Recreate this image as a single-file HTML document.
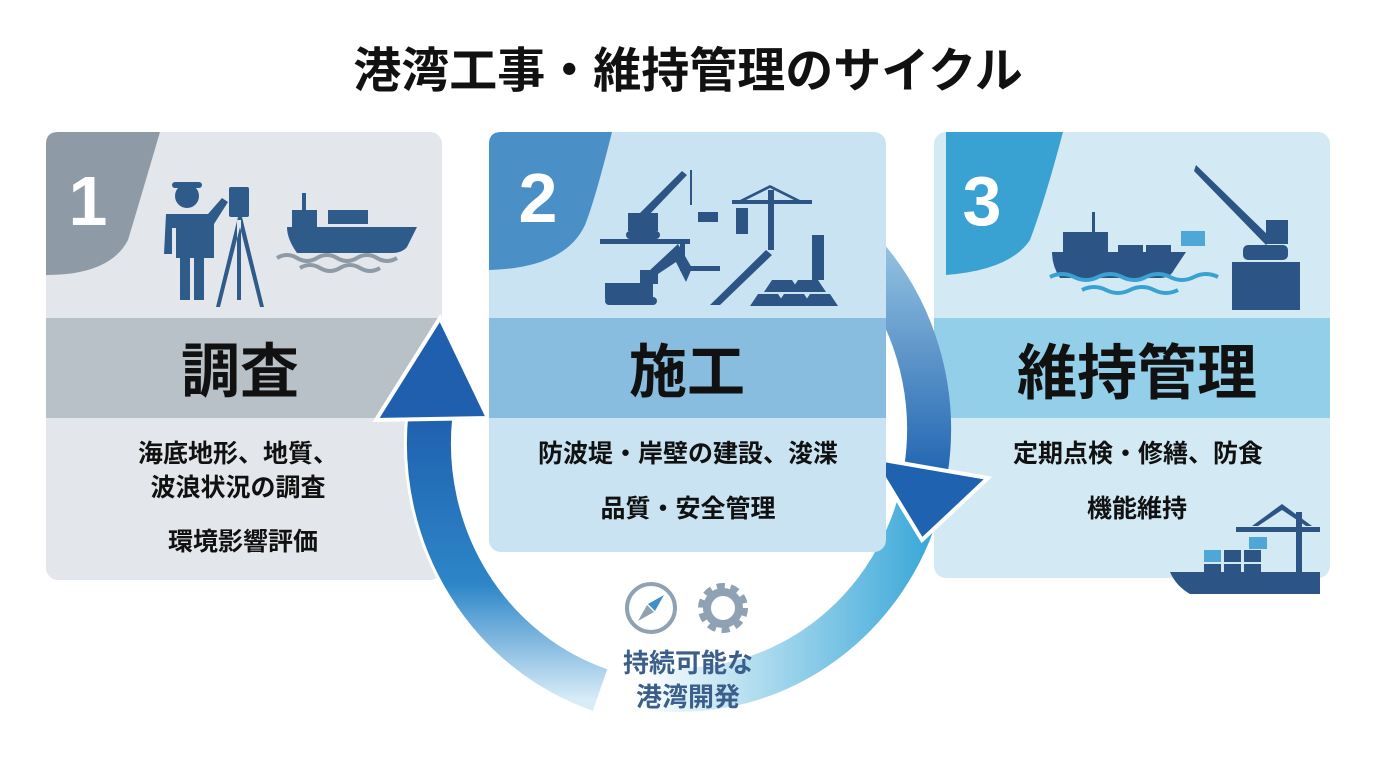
<!DOCTYPE html>
<html><head><meta charset="utf-8"><style>
html,body{margin:0;padding:0;background:#fff;}
body{width:1376px;height:768px;overflow:hidden;position:relative;font-family:"Liberation Sans","Noto Sans CJK JP",sans-serif;}
svg text{font-family:"Liberation Sans","Noto Sans CJK JP",sans-serif;}
</style></head><body>
<svg width="1376" height="768" viewBox="0 0 1376 768" xmlns="http://www.w3.org/2000/svg">
<defs>
<linearGradient id="gL" gradientUnits="userSpaceOnUse" x1="0" y1="410" x2="0" y2="700">
<stop offset="0" stop-color="#1f5fae"/><stop offset="0.6" stop-color="#2d86c8"/><stop offset="1" stop-color="#d8ecf7"/></linearGradient>
<linearGradient id="gR" gradientUnits="userSpaceOnUse" x1="0" y1="230" x2="0" y2="480">
<stop offset="0" stop-color="#9cc8e4"/><stop offset="1" stop-color="#1f63b0"/></linearGradient>
<linearGradient id="gB" gradientUnits="userSpaceOnUse" x1="930" y1="0" x2="640" y2="0">
<stop offset="0" stop-color="#3aa8d8"/><stop offset="1" stop-color="#ffffff"/></linearGradient>
</defs>
<text x="688" y="87" text-anchor="middle" font-size="48" font-weight="bold" fill="#111">港湾工事・維持管理のサイクル</text>

<!-- Panel 1 -->
<rect x="46" y="132" width="396" height="448" rx="12" fill="#e3e6ea"/>
<rect x="46" y="318" width="396" height="100" fill="#b8c0c8"/>
<path d="M58 132 H160 Q140 200 128 240 Q110 275 46 275 V144 Q46 132 58 132Z" fill="#8e9ba7"/>
<text x="88" y="225" text-anchor="middle" font-size="70" font-weight="bold" fill="#fff">1</text>
<g fill="#2f5b8a">
<circle cx="187" cy="196" r="12"/><rect x="172" y="182" width="30" height="6" rx="3"/>
<path d="M166 214 h42 l14 -16 l6 4 l-14 22 v34 h-10 v42 h-10 v-42 h-4 v42 h-10 v-42 h-4 v-10 l0 -20 h-4 v26 h-8 z"/>
<rect x="229" y="187" width="20" height="30" rx="2"/>
<path d="M238 217 l-22 90 h4 l20 -80 l20 80 h4 l-22 -90 z M237 220 h4 v80 h-4z"/>
<path d="M287 227 h130 l-10 20 q-5 6 -15 6 h-95 q-10 -14 -10 -26z"/>
<rect x="292" y="210" width="25" height="17"/><rect x="302" y="193" width="4" height="17"/>
<rect x="328" y="210" width="40" height="14"/>
</g>
<path d="M277 258 q10 -6 20 0 t20 0 t20 0 t20 0 t20 0 t20 0 M300 268 q10 -6 20 0 t20 0 t20 0 t20 0" stroke="#8e9ba7" stroke-width="4" fill="none"/>
<text x="240" y="392" text-anchor="middle" font-size="59" font-weight="bold" fill="#111">調査</text>
<text x="238" y="462" text-anchor="middle" font-size="25" font-weight="bold" fill="#111">海底地形、地質、</text>
<text x="238" y="496" text-anchor="middle" font-size="25" font-weight="bold" fill="#111">波浪状況の調査</text>
<text x="243" y="550" text-anchor="middle" font-size="25" font-weight="bold" fill="#111">環境影響評価</text>

<!-- Panel 3 -->
<rect x="934" y="132" width="396" height="446" rx="12" fill="#d3eaf5"/>
<rect x="934" y="318" width="396" height="100" fill="#93cfe9"/>
<path d="M946 132 H1063 Q1045 200 1030 240 Q1010 270 946 275 Z" fill="#3aa2d3"/>
<text x="982" y="225" text-anchor="middle" font-size="70" font-weight="bold" fill="#fff">3</text>
<g fill="#2c5586">
<path d="M1052 252 h134 l-12 18 q-4 8 -14 8 h-100 q-8 -12 -8 -26z"/>
<rect x="1063" y="232" width="45" height="20"/><rect x="1092" y="212" width="3" height="20"/>
<rect x="1118" y="245" width="25" height="8"/><rect x="1146" y="245" width="25" height="8"/>
<rect x="1232" y="262" width="68" height="48"/><rect x="1243" y="245" width="45" height="15" rx="5"/>
<path d="M1196 165 l76 74 l-6 6 l-72 -74z"/><rect x="1266" y="220" width="22" height="24"/>
</g>
<rect x="1181" y="231" width="24" height="15" fill="#4fa7d8"/>
<path d="M1050 277 q12 -6 24 0 t24 0 t24 0 t24 0 t24 0 t24 0 t24 0 M1082 290 q12 -6 24 0 t24 0 t24 0 t24 0" stroke="#3aa2d3" stroke-width="4" fill="none"/>
<text x="1137" y="394" text-anchor="middle" font-size="60" font-weight="bold" fill="#111">維持管理</text>
<text x="1138" y="462" text-anchor="middle" font-size="25" font-weight="bold" fill="#111">定期点検・修繕、防食</text>
<text x="1137" y="517" text-anchor="middle" font-size="25" font-weight="bold" fill="#111">機能維持</text>
<g fill="#2c5586">
<path d="M1170 572 h150 v22 h-130 q-14 -8 -20 -22z"/>
<rect x="1296" y="512" width="6" height="62"/><rect x="1236" y="527" width="84" height="5"/>
<path d="M1282 504 l-30 22 h6 l24 -16 l24 16 h6 z"/>
<rect x="1204" y="550" width="17" height="12" fill="#4fa7d8"/><rect x="1224" y="550" width="17" height="12"/><rect x="1244" y="550" width="17" height="12"/>
<rect x="1204" y="564" width="17" height="8"/><rect x="1224" y="564" width="17" height="8"/><rect x="1244" y="564" width="17" height="8"/>
</g>
<rect x="1249" y="537" width="18" height="12" fill="#4fa7d8"/>

<!-- Ring -->
<path d="M921 497 A250 260 0 0 1 637 686" fill="none" stroke="url(#gB)" stroke-width="44"/>
<path d="M600 690 A250 260 0 0 1 430.3 416" fill="none" stroke="#fff" stroke-width="50"/>
<path d="M600 690 A250 260 0 0 1 430.3 416" fill="none" stroke="url(#gL)" stroke-width="44"/>
<polygon points="440,318 376,420 488,418" fill="#1f5fae" stroke="#fff" stroke-width="4" stroke-linejoin="miter"/>
<path d="M860 250 A250 260 0 0 1 926 470" fill="none" stroke="url(#gR)" stroke-width="44"/>
<polygon points="872,458 988,478 922,540" fill="#1f63b0" stroke="#fff" stroke-width="4"/>

<!-- Panel 2 -->
<rect x="489" y="132" width="397" height="420" rx="12" fill="#c9e3f2"/>
<rect x="489" y="318" width="397" height="100" fill="#88bde0"/>
<path d="M501 132 H612 Q595 200 585 225 Q565 268 489 270 V144 Q489 132 501 132Z" fill="#4a90c6"/>
<text x="538" y="222" text-anchor="middle" font-size="70" font-weight="bold" fill="#fff">2</text>
<g fill="#2c5586">
<rect x="600" y="239" width="90" height="5"/><rect x="680" y="244" width="5" height="26"/><rect x="680" y="266" width="40" height="5"/>
<rect x="628" y="213" width="30" height="18"/><rect x="626" y="231" width="34" height="8" rx="4"/>
<path d="M640 213 l42 -42 l5 4 l-40 42z"/><rect x="690" y="170" width="2" height="35"/><rect x="698" y="212" width="20" height="10"/>
<rect x="736" y="208" width="12" height="26"/>
<path d="M732 200 h80 v4 h-80z M770 185 l-30 15 h6 l24 -12 l24 12 h6z"/><rect x="768" y="190" width="6" height="60"/>
<path d="M710 305 l56 -55 l6 5 l-52 50z"/>
<rect x="605" y="283" width="48" height="16"/><rect x="640" y="270" width="18" height="14"/>
<rect x="605" y="297" width="52" height="8" rx="4"/>
<path d="M648 272 l30 -28 l14 24 l-6 14 l-10 -20 l-24 16z"/>
<path d="M750 306 l8 -12 h20 l8 12z M776 306 l8 -12 h20 l8 12z M802 306 l8 -12 h20 l8 12z M764 292 l8 -12 h20 l8 12z M790 292 l8 -12 h20 l8 12z"/>
<rect x="812" y="235" width="12" height="45"/>
</g>
<text x="687" y="392" text-anchor="middle" font-size="58" font-weight="bold" fill="#111">施工</text>
<text x="688" y="462" text-anchor="middle" font-size="25" font-weight="bold" fill="#111">防波堤・岸壁の建設、浚渫</text>
<text x="688" y="517" text-anchor="middle" font-size="25" font-weight="bold" fill="#111">品質・安全管理</text>

<!-- center icons -->
<circle cx="651" cy="608" r="24" fill="none" stroke="#8ea2b3" stroke-width="4"/>
<path d="M664 595 l-9 16 l-7 -7z" fill="#3f8fca"/><path d="M638 621 l9 -16 l7 7z" fill="#8ea2b3"/>
<circle cx="723" cy="608" r="19" fill="none" stroke="#8ea2b3" stroke-width="12" stroke-dasharray="7 5"/>
<circle cx="723" cy="608" r="16" fill="none" stroke="#8ea2b3" stroke-width="8"/>
<text x="688" y="672" text-anchor="middle" font-size="26" font-weight="bold" fill="#3b5f8a">持続可能な</text>
<text x="688" y="706" text-anchor="middle" font-size="26" font-weight="bold" fill="#3b5f8a">港湾開発</text>
</svg>
</body></html>
